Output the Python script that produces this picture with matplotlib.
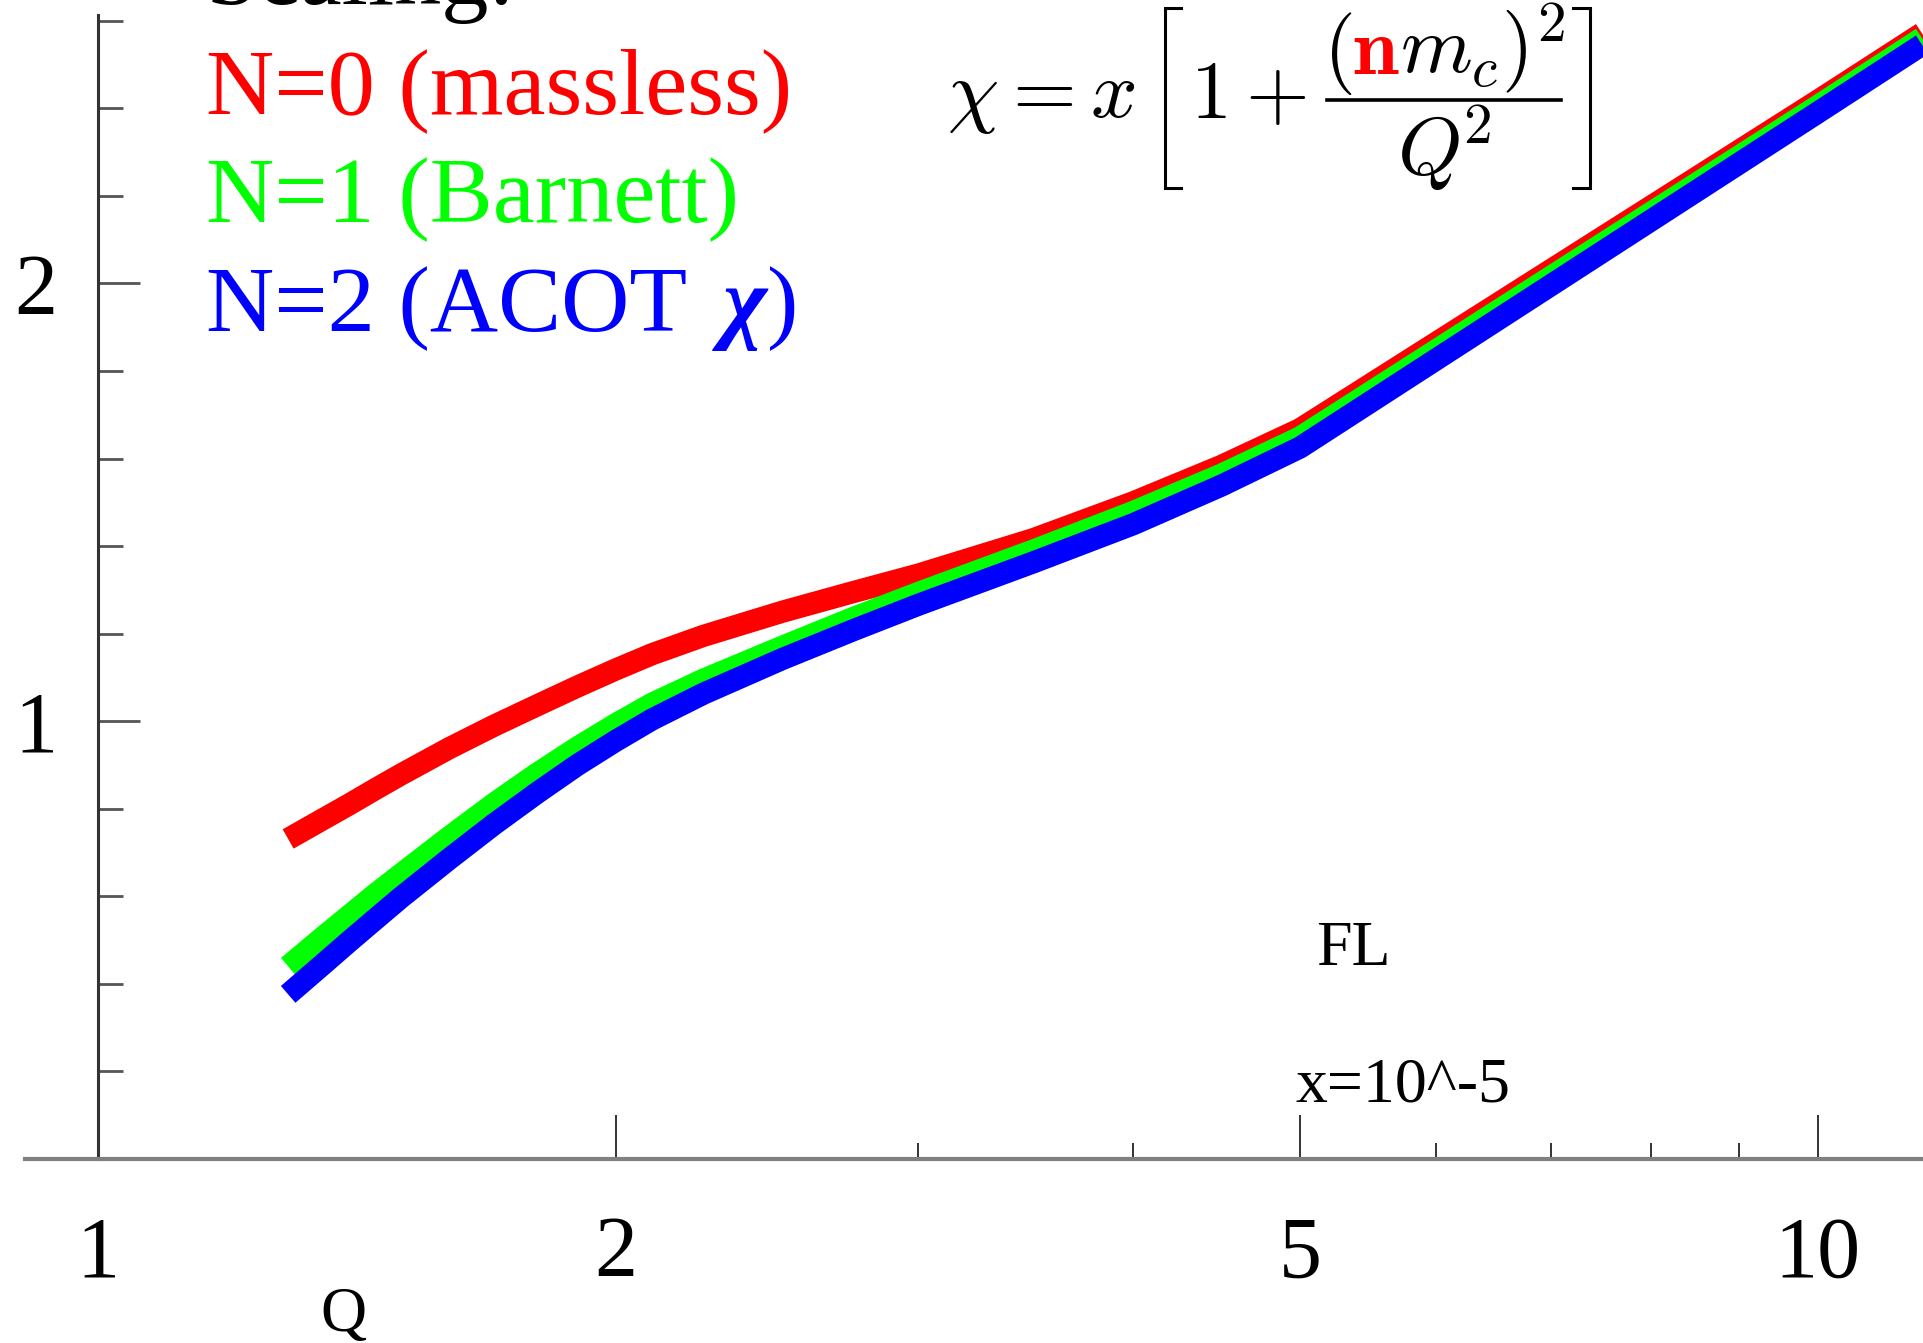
import matplotlib
matplotlib.use("Agg")
import matplotlib.pyplot as plt
from matplotlib.ticker import FixedLocator, FixedFormatter, NullFormatter
from matplotlib.offsetbox import TextArea, HPacker, VPacker, DrawingArea, AnnotationBbox
from matplotlib.lines import Line2D

plt.rcParams['font.family'] = ['Liberation Serif', 'DejaVu Serif']
plt.rcParams['mathtext.fontset'] = 'cm'

# ---------------- data ----------------
Q = [1.29, 1.35, 1.4, 1.45, 1.5, 1.6, 1.7, 1.8, 1.9, 2.0, 2.1, 2.25, 2.5, 2.75, 3.0,
     3.5, 4.0, 4.5, 5.0, 10.0, 11.5]
fl_massless = [0.731, 0.775, 0.810, 0.845, 0.878, 0.938, 0.990, 1.036, 1.079, 1.118, 1.153,
               1.195, 1.250, 1.295, 1.335, 1.416, 1.500, 1.583, 1.667, 2.417, 2.571]
fl_barnett = [0.440, 0.505, 0.556, 0.605, 0.650, 0.735, 0.812, 0.880, 0.940, 0.993, 1.040,
              1.095, 1.170, 1.236, 1.293, 1.390, 1.478, 1.563, 1.648, 2.405, 2.560]
fl_acot = [0.376, 0.443, 0.497, 0.548, 0.597, 0.685, 0.765, 0.836, 0.900, 0.955, 1.004,
           1.063, 1.142, 1.208, 1.266, 1.363, 1.450, 1.538, 1.625, 2.390, 2.545]

series_values = [fl_massless, fl_barnett, fl_acot]
series_labels = ["N=0 (massless)", "N=1 (Barnett)", "N=2 (ACOT χ)"]
series_colors = ["#ff0000", "#00ff00", "#0000ff"]

x_major = [1, 2, 5, 10]
x_major_labels = ["1", "2", "5", "10"]
x_minor = [3, 4, 6, 7, 8, 9]
y_major = [0, 1, 2]
y_major_labels = ["", "1", "2"]
y_minor = [0.2, 0.4, 0.6, 0.8, 1.2, 1.4, 1.6, 1.8, 2.2, 2.4, 2.6]

# ---------------- figure ----------------
W, H = 1923, 1343
fig = plt.figure(figsize=(W / 100, H / 100), dpi=100)


def fx(px):
    return px / W


def fy(py):
    return 1 - py / H


ax = fig.add_axes([fx(25), fy(1159), 1 - fx(25), fy(15) - fy(1159)])
ax.set_xscale('log')
for vals, col in zip(series_values, series_colors):
    ax.plot(Q, vals, color=col, lw=16, solid_capstyle='butt', solid_joinstyle='round')

ax.set_xlim(0.9069, 11.515)
ax.set_ylim(0, 2.613)

ax.spines['top'].set_visible(False)
ax.spines['right'].set_visible(False)
ax.spines['left'].set_position(('data', 1.0))
ax.spines['left'].set_color('#333333')
ax.spines['left'].set_linewidth(2.2)
ax.spines['bottom'].set_color('#808080')
ax.spines['bottom'].set_linewidth(3.0)

ax.xaxis.set_major_locator(FixedLocator(x_major))
ax.xaxis.set_major_formatter(FixedFormatter(x_major_labels))
ax.xaxis.set_minor_locator(FixedLocator(x_minor))
ax.xaxis.set_minor_formatter(NullFormatter())
ax.yaxis.set_major_locator(FixedLocator(y_major))
ax.yaxis.set_major_formatter(FixedFormatter(y_major_labels))
ax.yaxis.set_minor_locator(FixedLocator(y_minor))
ax.yaxis.set_minor_formatter(NullFormatter())

ax.tick_params(axis='x', which='major', direction='in', length=31.7, width=1.4,
               color='#333333', pad=41, labelsize=62)
ax.tick_params(axis='x', which='minor', direction='in', length=11.5, width=1.4,
               color='#333333')
ax.tick_params(axis='y', which='major', direction='in', length=30, width=2.0,
               color='#555555', pad=29, labelsize=62)
ax.tick_params(axis='y', which='minor', direction='in', length=18, width=2.0,
               color='#555555')

# ---------------- legend-like text ----------------
LFS = 68
fig.text(fx(206), fy(4), "Scaling:", color='black', fontsize=LFS, va='baseline', ha='left')
for i, (lab, col) in enumerate(zip(series_labels, series_colors)):
    yb = fy(113 + 109 * i)
    if "χ" in lab:
        pre, post = lab.split("χ")
        t1 = fig.text(fx(206), yb, pre, color=col, fontsize=LFS, va='baseline', ha='left')
        t2 = ax.annotate("χ", xy=(1, 0), xycoords=t1, xytext=(10, 0),
                         textcoords='offset points', va='bottom', ha='left', color=col,
                         fontsize=LFS, fontstyle='italic', fontweight='bold',
                         annotation_clip=False)
        ax.annotate(post, xy=(1, 0), xycoords=t2, va='bottom', ha='left', color=col,
                    fontsize=LFS, annotation_clip=False)
    else:
        fig.text(fx(206), yb, lab, color=col, fontsize=LFS, va='baseline', ha='left')

fig.text(fx(1316), fy(965), "FL", fontsize=46, va='baseline', ha='left')
fig.text(fx(1296), fy(1101), "x=10^-5", fontsize=46, va='baseline', ha='left')
fig.text(fx(343), fy(1331), "Q", fontsize=46, va='baseline', ha='center')

# ---------------- formula ----------------
fs = 59


def ta(s, color='black'):
    return TextArea(s, textprops=dict(fontsize=fs, color=color))


def spacer(w):
    return DrawingArea(w, 1)


def bracket(left):
    w, h = 13, 132
    da = DrawingArea(w, h, 0, 0)
    if left:
        xs = [w, 1.1, 1.1, w]
    else:
        xs = [0, w - 1.1, w - 1.1, 0]
    ys = [h - 1.1, h - 1.1, 1.1, 1.1]
    da.add_artist(Line2D(xs, ys, color='black', lw=2.2, solid_joinstyle='miter'))
    return da


num = HPacker(children=[ta(r"$($"), ta(r"$\mathbf{n}$", '#ff0000'), ta(r"$m_c)^2$")],
              sep=0, pad=0, align='baseline')
bar = DrawingArea(168, 5)
bar.add_artist(Line2D([0, 168], [2.5, 2.5], color='black', lw=2.6))
den = ta(r"$Q^{\!2}$")
frac = VPacker(children=[num, bar, den], sep=0, pad=0, align='center')

row = HPacker(children=[ta(r"$\chi = x$"), spacer(20), bracket(True), spacer(6),
                        ta(r"$1 +$"), spacer(12), frac, spacer(6), bracket(False)],
              sep=0, pad=0, align='center')
ab = AnnotationBbox(row, (fx(1269), fy(98)), xycoords='figure fraction', frameon=False,
                    box_alignment=(0.5, 0.5), pad=0, annotation_clip=False)
ax.add_artist(ab)

fig.savefig('out.png', dpi=100)
